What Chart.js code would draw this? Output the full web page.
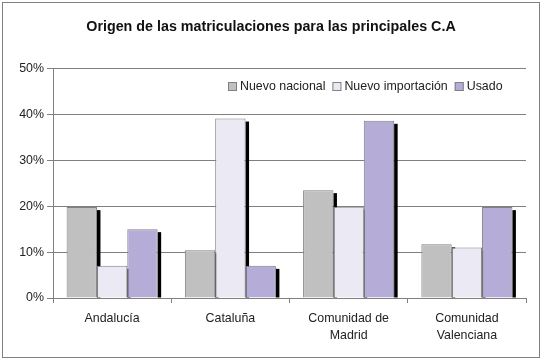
<!DOCTYPE html>
<html>
<head>
<meta charset="utf-8">
<script src="https://cdn.jsdelivr.net/npm/chart.js@4/dist/chart.umd.min.js"></script>
<style>
  html, body { margin: 0; padding: 0; background: #fff; }
  #wrap { position: relative; width: 543px; height: 361px; }
</style>
</head>
<body>
<div id="wrap"><canvas id="myChart" width="543" height="361"></canvas></div>
<script>
// Données
const titulo = 'Origen de las matriculaciones para las principales C.A';
const regiones = [['Andalucía'], ['Cataluña'], ['Comunidad de', 'Madrid'], ['Comunidad', 'Valenciana']];
const nuevoNacional = [19.8, 10.4, 23.5, 11.7];
const nuevoImportacion = [7.0, 39.1, 19.9, 11.0];
const usado = [15.0, 7.0, 38.6, 19.8];
const ticksY = [0, 10, 20, 30, 40, 50];

const gris = '#808080';
const police = '"Liberation Sans", Arial, sans-serif';

// Ombre noire à droite de chaque barre (dessinée derrière toutes les barres)
const ombrePlugin = {
    id: 'ombre',
    beforeDatasetsDraw(chart) {
        const ctx = chart.ctx;
        ctx.save();
        ctx.fillStyle = '#000';
        chart.data.datasets.forEach((ds, i) => {
            chart.getDatasetMeta(i).data.forEach(el => {
                const x = el.x + el.width / 2;
                ctx.fillRect(x, el.y + 3, 3.5, el.base - el.y - 3);
            });
        });
        ctx.restore();
    }
};

// Cadre extérieur, titre centré sur toute la largeur, légende
const cadrePlugin = {
    id: 'cadre',
    beforeDraw(chart) {
        const ctx = chart.ctx;
        ctx.save();
        ctx.fillStyle = '#fff';
        ctx.fillRect(0, 0, chart.width, chart.height);
        ctx.strokeStyle = gris;
        ctx.lineWidth = 1;
        ctx.strokeRect(2.5, 2.5, 537, 355);
        ctx.restore();
    },
    afterDraw(chart) {
        const ctx = chart.ctx;
        ctx.save();
        ctx.fillStyle = '#111';
        ctx.font = 'bold 14.3px ' + police;
        ctx.textAlign = 'center';
        ctx.textBaseline = 'middle';
        ctx.fillText(titulo, 271, 27);

        ctx.textAlign = 'left';
        ctx.font = '12.4px ' + police;
        const y = 86.5;
        let x = 228;
        chart.data.datasets.forEach(ds => {
            ctx.fillStyle = ds.backgroundColor;
            ctx.fillRect(x, y - 4.5, 9, 9);
            ctx.strokeStyle = gris;
            ctx.strokeRect(x + 0.5, y - 4, 8, 8);
            ctx.fillStyle = '#222';
            ctx.fillText(ds.label, x + 12, y + 0.5);
            x += 12 + ctx.measureText(ds.label).width + 7;
        });
        ctx.restore();
    }
};

const ctx = document.getElementById('myChart').getContext('2d');
new Chart(ctx, {
    type: 'bar',
    data: {
        labels: regiones,
        datasets: [
            { label: 'Nuevo nacional', data: nuevoNacional, backgroundColor: '#c0c0c0' },
            { label: 'Nuevo importación', data: nuevoImportacion, backgroundColor: '#ebe9f4' },
            { label: 'Usado', data: usado, backgroundColor: '#b6acd8' }
        ].map(d => Object.assign(d, { borderColor: gris, borderWidth: 1, categoryPercentage: 0.77, barPercentage: 1 }))
    },
    options: {
        responsive: false,
        animation: false,
        layout: { padding: { left: 0, right: 17, top: 68.5, bottom: 0 } },
        plugins: {
            legend: { display: false },
            tooltip: { enabled: false },
            title: { display: false }
        },
        scales: {
            x: {
                grid: { offset: true, drawOnChartArea: false, color: gris, tickLength: 5 },
                border: { color: gris },
                ticks: { color: '#222', padding: 8, font: { family: police, size: 12.4, lineHeight: 1.3 }, maxRotation: 0 },
                afterFit(s) { s.height = 63; }
            },
            y: {
                min: 0, max: 50,
                afterBuildTicks(s) { s.ticks = ticksY.map(v => ({ value: v })); },
                grid: { color: gris, tickLength: 6 },
                border: { color: gris },
                ticks: {
                    color: '#222', padding: 3,
                    font: { family: police, size: 12.4 },
                    callback: v => v + '%'
                },
                afterFit(s) { s.width = 53; }
            }
        }
    },
    plugins: [ombrePlugin, cadrePlugin]
});
</script>
</body>
</html>
